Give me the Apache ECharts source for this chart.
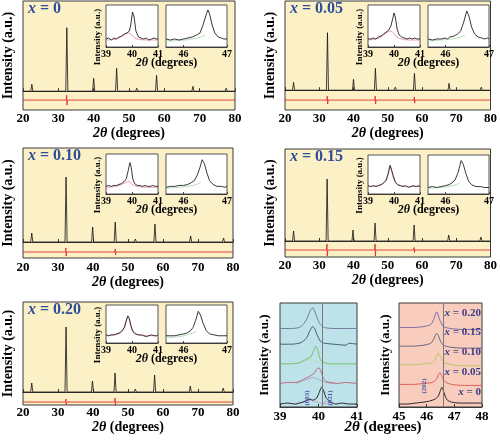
<!DOCTYPE html>
<html><head><meta charset="utf-8">
<script src="https://cdn.jsdelivr.net/npm/echarts@6/dist/echarts.min.js"></script>
<style>html,body{margin:0;padding:0;background:#fff}#c{width:500px;height:440px}</style>
</head><body><div id="c"></div><script>
// ---------------- DATA ----------------
const compositions = ['0', '0.05', '0.10', '0.15', '0.20'];
const mainTicks = [20, 30, 40, 50, 60, 70, 80];
const inset1Ticks = [39, 40, 41];
const inset2Ticks = [46, 47];
const zoomATicks = [39, 40, 41];
const zoomBTicks = [45, 46, 47, 48];
const millerA = ['(003)', '(021)'];
const millerB = ['(202)'];

// Full XRD patterns (2θ, intensity above baseline)
const xrd00 = [[20,0],[22.2,0],[22.5,7],[22.8,0],[29,0],[29.2,1],[29.4,0],[32.1,0],[32.4,64],[32.7,0],[39.7,0],[40.0,13],[40.3,0],[46.2,0],[46.5,23],[46.8,0],[51.9,0],[52.2,3],[52.5,0],[57.5,0],[57.8,16],[58.1,0],[67.8,0],[68.1,5],[68.4,0],[77.2,0],[77.5,3],[77.8,0],[80,0]];
const xrd05 = [[20,0],[22.2,0],[22.5,8],[22.8,0],[32.1,0],[32.4,58],[32.7,0],[39.7,0],[40.0,11],[40.3,0],[46.1,0],[46.4,22],[46.7,0],[51.9,0],[52.2,3],[52.5,0],[57.5,0],[57.8,17],[58.1,0],[67.6,0],[67.9,7],[68.2,0],[77.0,0],[77.3,3],[77.6,0],[80,0]];
const xrd10 = [[20,0],[22.2,0],[22.5,9],[22.8,0],[32.0,0],[32.3,65],[32.6,0],[39.6,0],[39.9,15],[40.2,0],[46.05,0],[46.35,20],[46.65,0],[51.8,0],[52.1,3],[52.4,0],[57.4,0],[57.7,18],[58.0,0],[67.6,0],[67.9,6],[68.2,0],[77.0,0],[77.3,4],[77.6,0],[80,0]];
const xrd15 = [[20,0],[22.2,0],[22.5,10],[22.8,0],[32.0,0],[32.3,62],[32.6,0],[39.55,0],[39.85,11],[40.15,0],[46.0,0],[46.3,18],[46.6,0],[51.8,0],[52.1,2],[52.4,0],[57.4,0],[57.7,16],[58.0,0],[67.5,0],[67.8,6],[68.1,0],[76.9,0],[77.2,4],[77.5,0],[80,0]];
const xrd20 = [[20,0],[22.2,0],[22.5,9],[22.8,0],[32.0,0],[32.3,65],[32.6,0],[39.55,0],[39.85,11],[40.15,0],[46.0,0],[46.3,19],[46.6,0],[51.8,0],[52.1,3],[52.4,0],[57.3,0],[57.6,17],[57.9,0],[67.5,0],[67.8,6],[68.1,0],[76.9,0],[77.2,4],[77.5,0],[80,0]];

// Difference curves (observed - calculated), offset below pattern
const diff00 = [[20,-9],[32.2,-9],[32.35,-4],[32.45,-14],[32.6,-9],[46.4,-9],[46.5,-7.5],[46.6,-10],[46.7,-9],[57.7,-9],[57.8,-8],[57.9,-10],[58,-9],[80,-9]];
const diff05 = [[20,-10],[32.2,-10],[32.35,-6],[32.45,-14],[32.6,-10],[46.25,-10],[46.35,-6],[46.45,-14],[46.6,-10],[57.65,-10],[57.75,-7],[57.85,-13],[58,-10],[80,-10]];
const diff10 = [[20,-10],[22.4,-10],[22.5,-8.5],[22.6,-11],[22.7,-10],[32.1,-10],[32.25,-6],[32.35,-14],[32.5,-10],[39.8,-10],[39.9,-8],[40.0,-12],[40.1,-10],[46.25,-10],[46.35,-7],[46.45,-13],[46.55,-10],[57.6,-10],[57.7,-8],[57.8,-12],[57.9,-10],[77.2,-10],[77.3,-9],[77.4,-11],[77.5,-10],[80,-10]];
const diff15 = [[20,-9],[32.1,-9],[32.25,-3],[32.35,-15],[32.5,-9],[39.75,-9],[39.85,-7.5],[39.95,-10.5],[40.05,-9],[46.2,-9],[46.3,-3],[46.4,-15],[46.5,-9],[51,-9],[51.5,-8.5],[52,-9],[57.6,-9],[57.7,-6.5],[57.8,-11.5],[57.9,-9],[80,-9]];
const diff20 = [[20,-10],[22.4,-10],[22.5,-8],[22.6,-12],[22.7,-10],[32.1,-10],[32.25,-7],[32.35,-13],[32.5,-10],[39.75,-10],[39.85,-8.5],[39.95,-11.5],[40.05,-10],[46.2,-10],[46.3,-6],[46.4,-14],[46.5,-10],[57.5,-10],[57.6,-8.5],[57.7,-11.5],[57.8,-10],[80,-10]];

// Inset 1 (39–41°) observed and fitted component
const in1_00 = [[39,8],[39.1,9],[39.2,7],[39.3,9],[39.4,8],[39.5,10],[39.6,11],[39.7,13],[39.8,14],[39.9,16],[39.95,22],[40.02,35],[40.08,30],[40.15,16],[40.25,10],[40.35,9],[40.45,8],[40.55,9],[40.65,7],[40.75,8],[40.85,9],[40.95,8],[41,8]];
const in1_05 = [[39,8],[39.1,8],[39.2,9],[39.3,8],[39.4,10],[39.5,11],[39.6,13],[39.7,15],[39.8,17],[39.88,21],[39.95,28],[40.0,34],[40.05,30],[40.12,18],[40.2,12],[40.3,10],[40.4,9],[40.5,8],[40.6,9],[40.7,8],[40.8,9],[40.9,8],[41,8]];
const in1_10 = [[39,8],[39.1,9],[39.2,8],[39.3,9],[39.4,9],[39.5,10],[39.6,11],[39.7,13],[39.78,16],[39.85,24],[39.92,33],[39.97,28],[40.03,16],[40.1,11],[40.2,9],[40.3,9],[40.4,8],[40.5,9],[40.6,8],[40.7,8],[40.8,9],[40.9,8],[41,8]];
const in1_15 = [[39,9],[39.1,8],[39.2,9],[39.3,8],[39.4,9],[39.5,10],[39.6,12],[39.7,15],[39.78,22],[39.85,31],[39.9,29],[39.97,20],[40.05,13],[40.15,10],[40.25,9],[40.35,8],[40.45,9],[40.55,7],[40.65,8],[40.75,9],[40.85,8],[40.95,9],[41,8]];
const in1_20 = [[39,9],[39.1,8],[39.2,9],[39.3,9],[39.4,10],[39.5,11],[39.6,13],[39.7,17],[39.77,24],[39.84,30],[39.9,27],[39.97,18],[40.05,12],[40.15,10],[40.25,9],[40.35,9],[40.45,8],[40.55,7],[40.65,8],[40.75,9],[40.85,8],[40.95,8],[41,9]];
const fit1_00 = [[39,7],[39.3,7.5],[39.5,9],[39.7,12],[39.85,14],[40,12],[40.1,9],[40.3,7.5],[40.6,7],[41,7]];
const fit1_05 = [[39,7],[39.3,8],[39.5,10],[39.7,14],[39.85,16],[39.98,14],[40.1,10],[40.3,8],[40.6,7],[41,7]];
const fit1_10 = [[39,7],[39.4,8],[39.6,10],[39.75,12],[39.9,13],[40,10],[40.2,8],[40.6,7],[41,7]];
const fit1_15 = [[39,8],[39.5,10],[39.7,15],[39.85,30],[40,15],[40.2,9],[41,8]];
const fit1_20 = [[39,8],[39.5,10],[39.7,16],[39.84,29],[40,14],[40.2,9],[41,8]];

// Inset 2 (45.6–47°)
const in2_00 = [[45.6,8],[45.7,7],[45.8,8],[45.9,7],[46,8],[46.1,9],[46.2,10],[46.3,12],[46.38,14],[46.45,22],[46.52,32],[46.56,37],[46.6,33],[46.66,22],[46.72,14],[46.8,10],[46.87,9],[46.93,8],[47,8]];
const in2_05 = [[45.6,8],[45.7,7],[45.8,8],[45.9,8],[46,9],[46.05,8],[46.1,10],[46.2,11],[46.28,13],[46.35,16],[46.42,25],[46.49,36],[46.54,31],[46.6,20],[46.67,13],[46.75,10],[46.83,9],[46.9,8],[46.97,9],[47,8]];
const in2_10 = [[45.6,7],[45.7,8],[45.8,8],[45.9,9],[46,9],[46.1,10],[46.18,12],[46.25,14],[46.32,20],[46.38,28],[46.43,36],[46.48,32],[46.54,22],[46.6,14],[46.68,10],[46.77,8],[46.87,8],[46.95,7],[47,8]];
const in2_15 = [[45.6,7],[45.7,8],[45.8,7],[45.9,8],[46,9],[46.08,10],[46.15,12],[46.22,15],[46.29,23],[46.36,36],[46.41,32],[46.47,22],[46.53,14],[46.6,10],[46.7,8],[46.8,8],[46.9,7],[47,7]];
const in2_20 = [[45.6,8],[45.7,8],[45.8,8],[45.9,9],[46,10],[46.08,11],[46.15,13],[46.22,17],[46.28,25],[46.34,35],[46.39,31],[46.45,22],[46.52,14],[46.6,10],[46.7,9],[46.8,8],[46.9,8],[47,8]];
const fit2_00 = [[45.6,6],[45.9,6.5],[46.2,8],[46.4,10],[46.5,12]];
const fit2_05 = [[45.6,6],[45.9,7],[46.15,8],[46.35,10],[46.45,12]];
const fit2_10 = [[45.6,6],[45.9,7],[46.1,8],[46.3,10],[46.4,12]];
const fit2_15 = [[45.6,6],[45.9,7],[46.05,8],[46.25,10],[46.33,12]];
const fit2_20 = [[45.6,6],[45.9,7],[46.05,8.5],[46.22,11],[46.3,13]];

// Stacked comparison, 39–41° (offset stacks)
const stA_00 = [[39,3],[39.2,4],[39.4,3],[39.5,4],[39.6,5],[39.7,7],[39.78,8],[39.85,7],[39.95,9],[40.02,15],[40.08,20],[40.13,17],[40.2,9],[40.26,7],[40.32,5],[40.45,3],[40.6,4],[40.8,3],[41,3]];
const stA_05 = [[39,24],[39.2,25],[39.4,25],[39.5,26],[39.6,28],[39.7,30],[39.8,32],[39.9,35],[39.96,39],[40.01,40],[40.06,37],[40.12,30],[40.2,26],[40.3,25],[40.5,24],[40.7,25],[41,24]];
const stA_10 = [[39,44],[39.3,44],[39.5,45],[39.6,47],[39.7,49],[39.8,51],[39.87,57],[39.93,62],[39.98,58],[40.04,49],[40.1,46],[40.3,44],[40.6,44],[41,44]];
const stA_15 = [[39,64],[39.3,64],[39.5,65],[39.6,67],[39.7,71],[39.78,78],[39.85,82],[39.9,80],[39.97,73],[40.05,67],[40.15,65],[40.4,64],[40.7,63],[40.8,65],[41,64]];
const stA_20 = [[39,80],[39.3,80],[39.5,81],[39.6,84],[39.7,90],[39.78,98],[39.85,101],[39.9,98],[39.97,90],[40.05,84],[40.15,81],[40.4,80],[40.7,80],[41,80]];
const compA_003 = [[39.4,3],[39.6,5],[39.75,7],[39.9,6],[40.05,4],[40.3,3]];
const compA_021 = [[40.1,3],[40.22,6],[40.35,3]];
const compA_05 = [[39.4,24],[39.7,28],[39.85,30],[40,28],[40.2,25],[40.4,24]];
const compA_10 = [[39.45,44],[39.65,47],[39.8,48],[39.95,46],[40.1,44]];
const refLineA = 40.09;

// Stacked comparison, 45–48°
const stB_00 = [[45,3],[45.3,3],[45.6,4],[45.9,5],[46.1,6],[46.3,8],[46.42,11],[46.5,17],[46.55,20],[46.6,17],[46.67,11],[46.75,7],[46.9,5],[47.2,4],[47.6,4],[48,4]];
const stB_05 = [[45,23],[45.5,23],[45.9,24],[46.2,25],[46.35,28],[46.43,33],[46.48,35],[46.53,33],[46.6,28],[46.7,25],[46.9,23],[47.3,22],[48,22]];
const stB_10 = [[45,43],[45.5,43],[45.9,44],[46.2,45],[46.3,48],[46.38,53],[46.42,55],[46.47,53],[46.55,48],[46.65,45],[46.9,43],[47.3,42],[48,42]];
const stB_15 = [[45,62],[45.5,62],[45.9,63],[46.15,65],[46.25,69],[46.33,74],[46.37,75],[46.42,73],[46.5,67],[46.6,63],[46.85,61],[47.3,60],[48,60]];
const stB_20 = [[45,81],[45.5,81],[45.9,82],[46.15,84],[46.25,89],[46.32,95],[46.36,97],[46.41,94],[46.5,87],[46.6,82],[46.85,80],[47.3,79],[48,79]];
const refLineB = 46.59;

// ---------------- LAYOUT / STYLE ----------------
const SERIF = 'Liberation Serif';
const YELLOW = '#FCF0C6', CYAN = '#BDE2EA', SALMON = '#F8CDBD';
const BLUE = '#2F4E9A';
const xrdSets = [xrd00, xrd05, xrd10, xrd15, xrd20];
const diffSets = [diff00, diff05, diff10, diff15, diff20];
const in1Sets = [in1_00, in1_05, in1_10, in1_15, in1_20];
const in2Sets = [in2_00, in2_05, in2_10, in2_15, in2_20];
const fit1Sets = [fit1_00, fit1_05, fit1_10, fit1_15, fit1_20];
const fit2Sets = [fit2_00, fit2_05, fit2_10, fit2_15, fit2_20];

const PL = [
  {left:23, top:1, width:212, height:109, ymin:-19, ymax:91, itop:5, ih:42, lm:2, ng:12},
  {left:285, top:1, width:212, height:109, ymin:-20, ymax:90, itop:5, ih:42, lm:2, ng:11},
  {left:23, top:148, width:210, height:110, ymin:-16, ymax:94, itop:154, ih:40, lm:3, ng:15},
  {left:285, top:149, width:212, height:108, ymin:-16, ymax:92, itop:155, ih:39, lm:2, ng:13},
  {left:23, top:302, width:210, height:103, ymin:-13, ymax:90, itop:305, ih:38, lm:1, ng:14}
];

const grids = [], xAxes = [], yAxes = [], series = [], graphics = [];
const tickFont = {fontFamily: SERIF, fontWeight: 'bold', color: '#000'};
function addGrid(g, xa, ya) {
  grids.push(Object.assign({show: true, borderColor: '#3a3a3a', borderWidth: 1, containLabel: false}, g));
  const i = grids.length - 1;
  xAxes.push(Object.assign({gridIndex: i, type: 'value', splitLine: {show: false},
    axisLine: {show: true, lineStyle: {color: '#3a3a3a', width: 1}}}, xa));
  yAxes.push(Object.assign({gridIndex: i, type: 'value', splitLine: {show: false},
    axisLine: {show: false}, axisTick: {show: false}, axisLabel: {show: false}}, ya));
  return i;
}
function line(i, data, color, width, extra) {
  series.push(Object.assign({type: 'line', xAxisIndex: i, yAxisIndex: i, data: data, showSymbol: false,
    silent: true, animation: false, lineStyle: {color: color, width: width}, z: 3}, extra || {}));
}
// rich styles for axis names (ECharts model uses "color")
const thetaRich = (fs) => ({i: {fontFamily: SERIF, fontWeight: 'bold', fontStyle: 'italic', fontSize: fs, color: '#000'},
  n: {fontFamily: SERIF, fontWeight: 'bold', fontSize: fs, color: '#000'}});
// rich styles for graphic text (zrender uses "fill")
const gRich = (fs, col) => ({i: {fontFamily: SERIF, fontWeight: 'bold', fontStyle: 'italic', fontSize: fs, fill: col},
  n: {fontFamily: SERIF, fontWeight: 'bold', fontSize: fs, fill: col}});
function text(x, y, str, fs, opts) {
  opts = opts || {};
  graphics.push({type: 'text', x: x, y: y, rotation: opts.rot || 0, z: 100, silent: true,
    style: {text: str, fontFamily: SERIF, fontWeight: 'bold', fontSize: fs, fill: opts.color || '#000',
      align: opts.align || 'center', verticalAlign: 'middle', rich: opts.rich}});
}

PL.forEach((p, k) => {
  const gi = addGrid({left: p.left, top: p.top, width: p.width, height: p.height, backgroundColor: YELLOW},
    {min: 20, max: 80, interval: 10,
     axisTick: {show: true, inside: true, length: 3, lineStyle: {color: '#3a3a3a'}},
     axisLabel: Object.assign({fontSize: 13, margin: p.lm}, tickFont),
     name: '{i|2θ}{n| (degrees)}', nameLocation: 'middle', nameGap: p.ng,
     nameTextStyle: {rich: thetaRich(14)}},
    {min: p.ymin, max: p.ymax, name: 'Intensity (a.u.)', nameLocation: 'middle', nameGap: 8,
     nameTextStyle: {fontFamily: SERIF, fontWeight: 'bold', fontSize: 14, color: '#000'}});
  line(gi, diffSets[k], '#E0302A', 0.9);
  line(gi, xrdSets[k], '#111', 0.8);

  const l1 = p.left + 83, l2 = p.left + 143;
  const insetAxis = (min, max, ticks) => ({min: min, max: max,
    axisTick: {show: true, inside: true, length: 2, customValues: ticks, lineStyle: {color: '#444'}},
    axisLabel: Object.assign({fontSize: 10, margin: 2, customValues: ticks}, tickFont)});
  const a = addGrid({left: l1, top: p.itop, width: 52, height: p.ih, backgroundColor: '#fff', borderColor: '#555'},
    insetAxis(39, 41, inset1Ticks), {min: 0, max: 42});
  line(a, fit1Sets[k], '#E27FB2', 0.8, {smooth: 0.3});
  line(a, in1Sets[k], '#222', 0.9);
  const b = addGrid({left: l2, top: p.itop, width: 61, height: p.ih, backgroundColor: '#fff', borderColor: '#555'},
    insetAxis(45.6, 47, inset2Ticks), {min: 0, max: 42});
  line(b, fit2Sets[k], '#A6D6A6', 0.8, {smooth: 0.3});
  line(b, in2Sets[k], '#222', 0.9);

  // inset titles
  text((l1 + l2 + 61) / 2, p.itop + p.ih + 16, '{i|2θ}{n| (degrees)}', 12, {rich: gRich(12, '#000')});
  text(p.left + 75, p.itop + (p.ih + 18) / 2 + 2, 'Intensity (a.u.)', 9, {rot: Math.PI / 2});
  // composition label
  text(p.left + 5, p.top + 8, '{i|x}{n| = ' + compositions[k] + '}', 16, {align: 'left', color: BLUE,
    rich: gRich(16, BLUE)});
});

// Stacked panel A (39–41)
const zA = addGrid({left: 280, top: 303, width: 77, height: 104, backgroundColor: CYAN},
  {min: 39, max: 41, interval: 1, axisTick: {show: true, inside: true, length: 3, lineStyle: {color: '#3a3a3a'}},
   axisLabel: Object.assign({fontSize: 13, margin: 3}, tickFont)},
  {min: 0, max: 106, name: 'Intensity (a.u.)', nameLocation: 'middle', nameGap: 9,
   nameTextStyle: {fontFamily: SERIF, fontWeight: 'bold', fontSize: 13, color: '#000'}});
line(zA, compA_003, '#D58AB0', 0.7, {smooth: 0.4});
line(zA, compA_021, '#999', 0.7, {smooth: 0.4});
line(zA, compA_05, '#9a9aa6', 0.7, {smooth: 0.4});
line(zA, compA_10, '#B6DDA0', 0.7, {smooth: 0.4});
line(zA, stA_00, '#111', 0.9, {smooth: 0.2, markLine: {silent: true, symbol: 'none', animation: false,
  label: {show: false}, lineStyle: {color: '#7a7a7a', type: 'solid', width: 1}, data: [{xAxis: refLineA}]}});
line(zA, stA_05, '#C4566C', 0.9, {smooth: 0.2});
line(zA, stA_10, '#6CBF5A', 0.9, {smooth: 0.2});
line(zA, stA_15, '#3C4A68', 0.9, {smooth: 0.2});
line(zA, stA_20, '#6B6F93', 0.9, {smooth: 0.2});

// Stacked panel B (45–48)
const zB = addGrid({left: 399, top: 303, width: 83, height: 104, backgroundColor: SALMON},
  {min: 45, max: 48, interval: 1, axisTick: {show: true, inside: true, length: 3, lineStyle: {color: '#3a3a3a'}},
   axisLabel: Object.assign({fontSize: 13, margin: 3}, tickFont)},
  {min: 0, max: 106, name: 'Intensity (a.u.)', nameLocation: 'middle', nameGap: 7,
   nameTextStyle: {fontFamily: SERIF, fontWeight: 'bold', fontSize: 13, color: '#000'}});
line(zB, stB_00, '#111', 0.9, {smooth: 0.2, markLine: {silent: true, symbol: 'none', animation: false,
  label: {show: false}, lineStyle: {color: '#7a7a7a', type: 'solid', width: 1}, data: [{xAxis: refLineB}]}});
line(zB, stB_05, '#D85050', 0.9, {smooth: 0.2});
line(zB, stB_10, '#B5C45A', 0.9, {smooth: 0.2});
line(zB, stB_15, '#505878', 0.9, {smooth: 0.2});
line(zB, stB_20, '#7060A0', 0.9, {smooth: 0.2});

// labels for stacked panels
const LBLC = '#3B3B8B';
const labY = [392, 372, 352, 332, 313];
compositions.forEach((c, k) => {
  text(481, labY[k], '{i|x}{n| = ' + c + '}', 11, {align: 'right', color: LBLC, rich: gRich(11, LBLC)});
});
text(307, 398, millerA[0], 7, {rot: Math.PI / 2, color: '#4A56A8'});
text(330, 398, millerA[1], 7, {rot: Math.PI / 2, color: '#4A56A8'});
text(424, 386, millerB[0], 7, {rot: Math.PI / 2, color: '#4A56A8'});
text(383, 427, '{i|2θ}{n| (degrees)}', 15, {rich: gRich(15, '#000')});

const chart = echarts.init(document.getElementById('c'), null, {renderer: 'canvas'});
chart.setOption({animation: false, grid: grids, xAxis: xAxes, yAxis: yAxes, series: series, graphic: graphics});
</script></body></html>
